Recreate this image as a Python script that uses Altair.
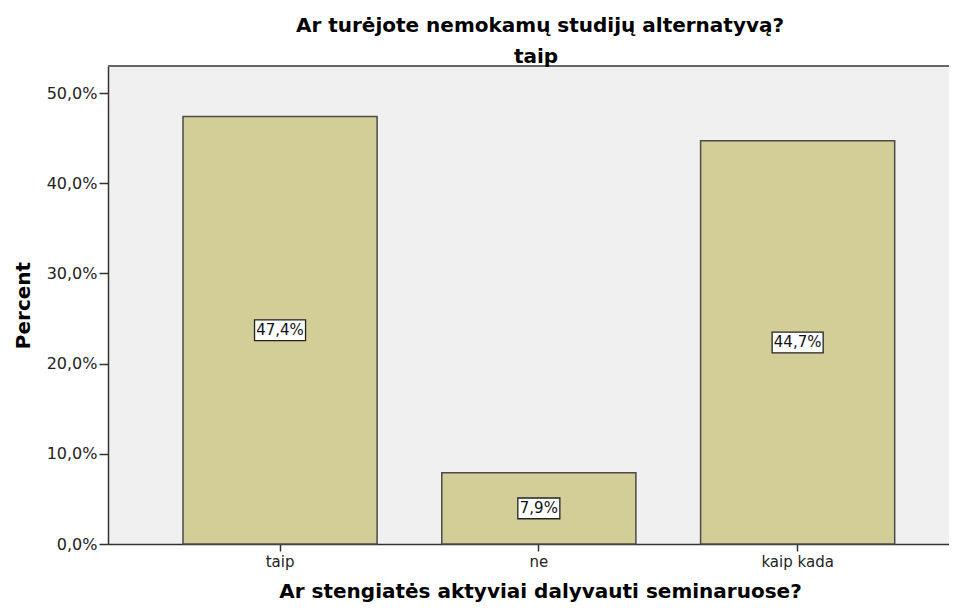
import altair as alt
import pandas as pd

categories = ["taip", "ne", "kaip kada"]
percents = [47.4, 7.9, 44.7]
value_labels = ["47,4%", "7,9%", "44,7%"]
y_ticks = [0, 10, 20, 30, 40, 50]

chart_title = "Ar turėjote nemokamų studijų alternatyvą?"
panel_title = "taip"
x_title = "Ar stengiatės aktyviai dalyvauti seminaruose?"
y_title = "Percent"

W, H = 841, 478
FONT = "DejaVu Sans"

df = pd.DataFrame({"cat": categories, "pct": percents, "label": value_labels})
df["mid"] = df["pct"] / 2
df["lo"] = df["mid"] - 1.15
df["hi"] = df["mid"] + 1.15

xenc = alt.X(
    "cat:N",
    sort=categories,
    scale=alt.Scale(paddingInner=0.25, paddingOuter=0.2498, align=0.58),
    axis=alt.Axis(
        title=x_title,
        labelAngle=0,
        labelFont=FONT,
        labelFontSize=15,
        labelColor="#222",
        labelPadding=3,
        tickSize=7,
        tickColor="#333",
        tickWidth=1.5,
        domainColor="#333",
        domainWidth=1.5,
        titleFont=FONT,
        titleFontSize=20,
        titleFontWeight="bold",
        titleColor="#000",
        titleX=432,
        titleY=53,
        titleBaseline="alphabetic",
        titleAnchor="start",
        titleAlign="center",
    ),
)

yscale = alt.Scale(domain=[0, 53], nice=False, zero=True)
yaxis = alt.Axis(
    title=y_title,
    values=y_ticks,
    labelExpr="replace(format(datum.value, '.1f'), '.', ',') + '%'",
    grid=False,
    labelFont=FONT,
    labelFontSize=16,
    labelColor="#222",
    labelPadding=2,
    tickSize=9,
    tickColor="#333",
    tickWidth=1.5,
    domainColor="#333",
    domainWidth=1.5,
    titleFont=FONT,
    titleFontSize=20,
    titleFontWeight="bold",
    titleColor="#000",
    titleX=-79,
    titleY=H / 2,
    titleAngle=270,
    titleAlign="center",
    titleBaseline="alphabetic",
)

base = alt.Chart(df)

bars = base.mark_bar(fill="#d3ce97", stroke="#4a4a4a", strokeWidth=1.5).encode(
    x=xenc, y=alt.Y("pct:Q", scale=yscale, axis=yaxis)
)

box5 = base.transform_filter("length(datum.label) == 5").mark_bar(
    width=51, fill="white", stroke="#222", strokeWidth=1.3
).encode(x=xenc, y=alt.Y("lo:Q", scale=yscale, axis=yaxis), y2="hi:Q")

box4 = base.transform_filter("length(datum.label) == 4").mark_bar(
    width=42, fill="white", stroke="#222", strokeWidth=1.3
).encode(x=xenc, y=alt.Y("lo:Q", scale=yscale, axis=yaxis), y2="hi:Q")

texts = base.mark_text(font=FONT, fontSize=15, color="#111", baseline="middle").encode(
    x=xenc, y=alt.Y("mid:Q", scale=yscale, axis=yaxis), text="label:N"
)

one = alt.Data(values=[{"k": 1}])

top_line = alt.Chart(one).mark_rule(color="#666", strokeWidth=2).encode(
    x=alt.value(0), x2=alt.value(W), y=alt.value(0)
)

title_txt = alt.Chart(one).mark_text(
    text=chart_title, font=FONT, fontSize=20, fontWeight="bold", color="#000",
    baseline="alphabetic", align="center"
).encode(x=alt.value(432), y=alt.value(-34))

panel_txt = alt.Chart(one).mark_text(
    text=panel_title, font=FONT, fontSize=20, fontWeight="bold", color="#000",
    baseline="alphabetic", align="center"
).encode(x=alt.value(428), y=alt.value(-3))

chart = alt.layer(bars, box5, box4, texts, top_line, title_txt, panel_txt).properties(
    width=W,
    height=H,
    autosize=alt.AutoSizeParams(type="none"),
    padding={"left": 100, "top": 58, "right": 0, "bottom": 61},
    background="white",
).configure_view(fill="#f0f0f0", stroke=None)

chart.save("out.html", embed_options={"renderer": "svg", "actions": False})
